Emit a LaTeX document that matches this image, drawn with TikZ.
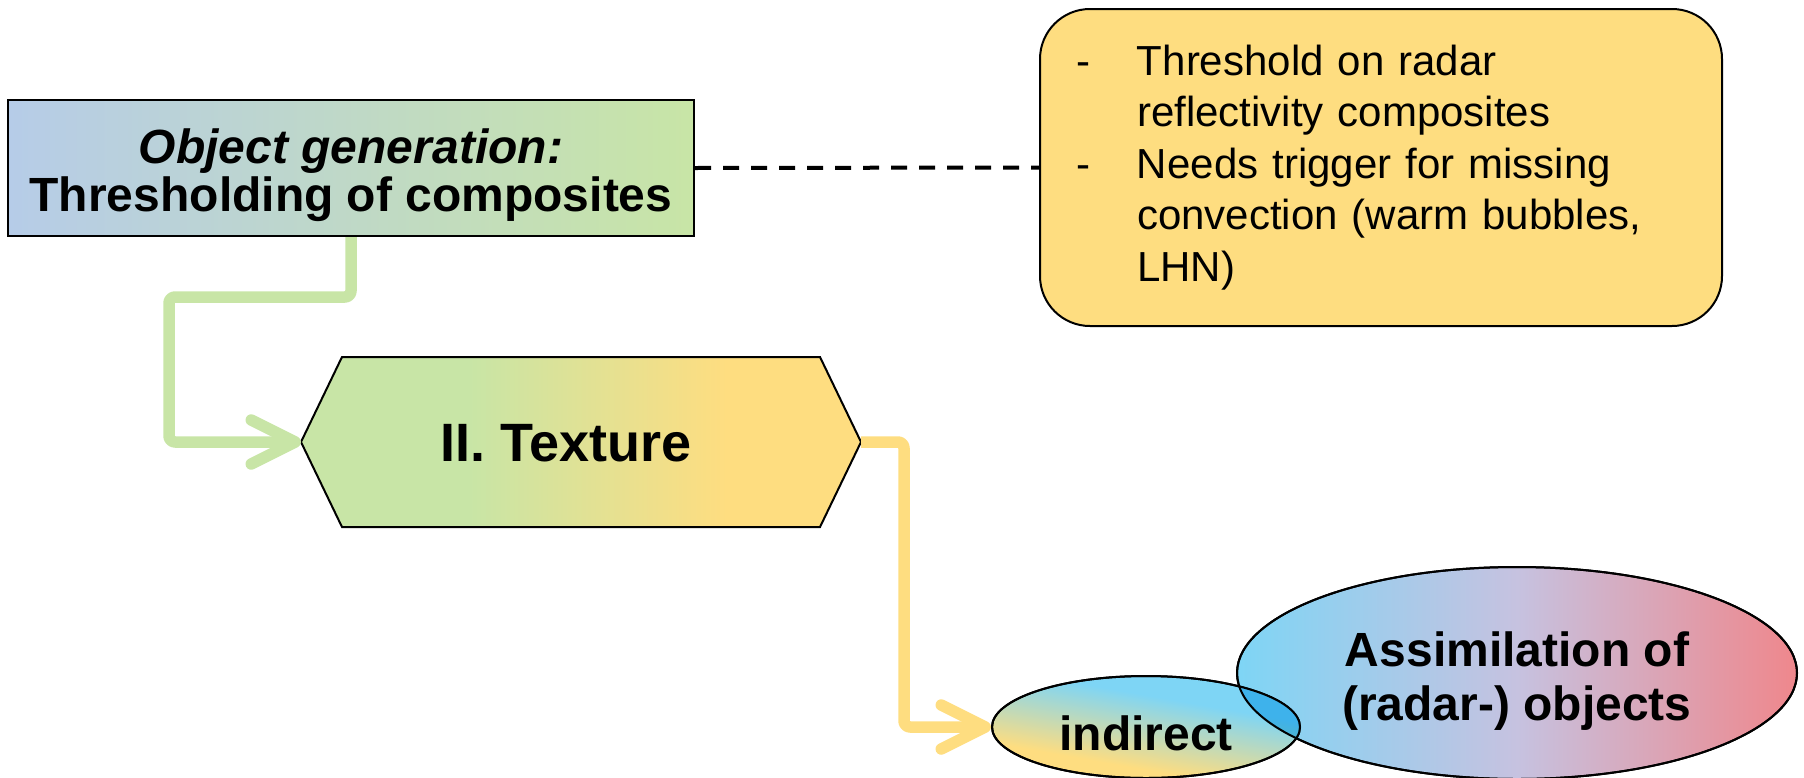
\documentclass[tikz,border=0pt]{standalone}
\usepackage{fontspec}
\setmainfont{Liberation Sans}
\usetikzlibrary{arrows.meta,shapes.geometric,calc}
\definecolor{cblue}{RGB}{182,204,232}
\definecolor{cgreen}{RGB}{200,229,166}
\definecolor{cyellow}{RGB}{254,221,128}
\definecolor{ecyan}{RGB}{126,213,245}
\definecolor{epink}{RGB}{239,135,140}
\definecolor{elav}{RGB}{198,194,224}
\definecolor{mulblue}{RGB}{62,178,235}
\definecolor{mulyel}{RGB}{126,184,123}
\pgfdeclarehorizontalshading{hexshade}{100bp}{color(0bp)=(cgreen); color(25bp)=(cgreen); color(40bp)=(cgreen); color(63bp)=(cyellow); color(75bp)=(cyellow); color(100bp)=(cyellow)}
\pgfdeclareverticalshading{indshade}{100bp}{color(0bp)=(cyellow); color(25bp)=(cyellow); color(34bp)=(cyellow); color(62bp)=(ecyan); color(75bp)=(ecyan); color(100bp)=(ecyan)}
\pgfdeclareverticalshading{indmulshade}{100bp}{color(0bp)=(mulyel); color(25bp)=(mulyel); color(34bp)=(mulyel); color(62bp)=(mulblue); color(75bp)=(mulblue); color(100bp)=(mulblue)}
\tikzset{
  border/.style={draw=black, line width=1pt},
  objbox/.style={border, rectangle, minimum width=343pt, minimum height=68pt, inner sep=0pt,
    left color=cblue, right color=cgreen},
  notebox/.style={border, rectangle, rounded corners=25pt, fill=cyellow,
    minimum width=341pt, minimum height=158.5pt, inner xsep=18pt, inner ysep=0pt,
    text width=305pt, align=left, font=\fontsize{21}{25.8}\selectfont},
  connline/.style={line width=5.75pt, line join=round, rounded corners=3pt,
    -{Straight Barb[length=22pt,width=22pt,round]}},
  gline/.style={connline, draw=cgreen},
  yline/.style={connline, draw=cyellow},
  dashline/.style={draw=black, line width=2pt, dash pattern=on 8pt off 6pt},
  boldtext/.style={font=\fontsize{24}{27}\selectfont\bfseries, align=center, inner sep=0pt},
}
\begin{document}
\begin{tikzpicture}[x=0.5pt, y=-0.5pt]
\useasboundingbox (0,0) rectangle (1804,777);

% top-left box
\node[objbox] (obj) at (351,168) {};
\node[boldtext, font=\fontsize{24}{24.2}\selectfont\bfseries] (objtext) at ([yshift=-3.7pt]obj.center)
  {{\itshape Object generation:}\\Thresholding of composites};

% note box
\node[notebox] (note) at (1381,167.5) {%
\makebox[30.5pt][l]{-}Threshold on radar\\
\hspace*{30.5pt}reflectivity composites\\
\makebox[30.5pt][l]{-}Needs trigger for missing\\
\hspace*{30.5pt}convection (warm bubbles,\\
\hspace*{30.5pt}LHN)};

\draw[dashline] (obj.east) -- (note.west);

% hexagon
\coordinate (hexL) at (301,442);
\coordinate (hexR) at (861,442);
\shade[shading=hexshade, border] (hexL) -- (342,357) -- (820,357) -- (hexR) -- (820,527) -- (342,527) -- cycle;
\node[boldtext, font=\fontsize{27}{30}\selectfont\bfseries] (tex) at (566,443) {II. Texture};

% connectors
\draw[gline] (obj.south) -- ++(0,60) -| ([xshift=-66pt]hexL) -- (hexL);

% ellipses
\node[ellipse, border, minimum width=280pt, minimum height=106pt, inner sep=0pt,
  left color=ecyan, right color=epink, middle color=elav] (assim) at (1517,673) {};
\node[boldtext] (assimtext) at ([yshift=-4pt]assim.center) {Assimilation of\\(radar-) objects};
\node[ellipse, border, minimum width=154pt, minimum height=51pt, inner sep=0pt,
  shading=indshade, shading angle=-10] (ind) at (1146,727) {};
\begin{scope}
  \clip (assim.center) ellipse [x radius=140pt, y radius=53pt];
  \shade[shading=indmulshade, shading angle=-10] (ind.center) ellipse [x radius=77pt, y radius=25.5pt];
\end{scope}
\draw[line width=1pt] (assim.center) ellipse [x radius=140pt, y radius=53pt];
\draw[line width=1pt] (ind.center) ellipse [x radius=77pt, y radius=25.5pt];
\node[boldtext] (indtext) at ([yshift=-3pt]ind.center) {indirect};

\draw[yline] (hexR) -- ++(43,0) |- (ind.west);
\end{tikzpicture}
\end{document}
